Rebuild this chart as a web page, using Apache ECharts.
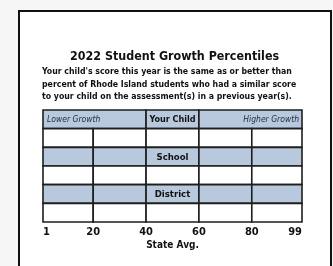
<!DOCTYPE html>
<html>
<head>
<meta charset="utf-8">
<script src="https://cdn.jsdelivr.net/npm/echarts@6/dist/echarts.min.js"></script>
<style>
  html, body { margin: 0; padding: 0; background: #f6f6f6; }
  #chart { width: 333px; height: 266px; }
</style>
</head>
<body>
<div id="chart"></div>
<script>
// percentile scale along the bottom
let tickValues = [1, 20, 40, 60, 80, 99];
// rows from top to bottom
let rowNames = ['header', 'child', 'School', 'schoolBar', 'District', 'districtBar'];
let rowLabels = ['Your Child', '', 'School', '', 'District', ''];
let rowShaded = [true, false, true, false, true, false];
// header row only splits around the middle band
let headerBreaks = [1, 40, 60, 99];
let headerLeft = 'Lower Growth';
let headerRight = 'Higher Growth';
let titleText = '2022 Student Growth Percentiles';
let introLines = [
  "Your child's score this year is the same as or better than",
  'percent of Rhode Island students who had a similar score',
  'to your child on the assessment(s) in a previous year(s).'
];

let blue = '#b8c9dd';
let ink = '#1e1e1e';
let font = "'DejaVu Sans Condensed', 'Liberation Sans', sans-serif";

// build the cells from the arrays above
let cells = [];
rowNames.forEach((name, r) => {
  let breaks = r === 0 ? headerBreaks : tickValues;
  for (let i = 0; i < breaks.length - 1; i++) {
    let label = '', align = 'center';
    if (r === 0) {
      if (i === 0) { label = headerLeft; align = 'left'; }
      else if (i === 1) { label = rowLabels[r]; }
      else { label = headerRight; align = 'right'; }
    } else if (breaks[i] === 40) {
      label = rowLabels[r];
    }
    cells.push({ value: [breaks[i], breaks[i + 1], r], label, align, shaded: rowShaded[r], header: r === 0 });
  }
});

let renderCell = function (params, api) {
  let c = cells[params.dataIndex];
  let p0 = api.coord([api.value(0), api.value(2)]);
  let p1 = api.coord([api.value(1), api.value(2)]);
  let h = api.size([0, 1])[1];
  let children = [{
    type: 'rect',
    shape: { x: p0[0], y: p0[1] - h / 2, width: p1[0] - p0[0], height: h },
    style: { fill: c.shaded ? blue : '#ffffff', stroke: ink, lineWidth: 1.6 }
  }];
  if (c.label) {
    let italic = c.header && c.align !== 'center';
    let tx = c.align === 'left' ? p0[0] + 4 : c.align === 'right' ? p1[0] - 3 : (p0[0] + p1[0]) / 2;
    let size = italic ? 8.5 : (c.header ? 9 : 9.5);
    children.push({
      type: 'text',
      style: {
        x: tx, y: p0[1] + 0.5, text: c.label, align: c.align, verticalAlign: 'middle',
        fill: italic ? '#1d2a44' : '#111',
        font: (italic ? 'italic ' : 'bold ') + size + 'px ' + font
      }
    });
  }
  return { type: 'group', children };
};

let chart = echarts.init(document.getElementById('chart'));
chart.setOption({
  animation: false,
  backgroundColor: '#f6f6f6',
  grid: { left: 43, right: 31, top: 110, bottom: 44 },
  xAxis: {
    type: 'value', min: 1, max: 99,
    axisLine: { show: false }, axisTick: { show: false }, splitLine: { show: false },
    axisLabel: {
      customValues: tickValues, margin: 5, color: '#111', fontSize: 11, fontWeight: 'bold',
      fontFamily: font, alignMinLabel: 'left', alignMaxLabel: 'right'
    },
    name: 'State Avg.', nameLocation: 'middle', nameGap: 18,
    nameTextStyle: { color: '#111', fontSize: 10, fontWeight: 'bold', fontFamily: font }
  },
  yAxis: { type: 'category', data: rowNames, inverse: true, show: false },
  graphic: [
    { type: 'rect', left: 18, top: 10, z: -10, silent: true,
      shape: { width: 312, height: 270 }, style: { fill: '#ffffff', stroke: '#111', lineWidth: 2 } },
    { type: 'text', left: 70, top: 51, style: {
      text: titleText, fill: '#111', font: 'bold 12.4px ' + font } },
    { type: 'text', left: 42, top: 66, style: {
      text: introLines.join('\n'), lineHeight: 12.4, fill: '#111', font: 'bold 8.7px ' + font } }
  ],
  series: [{
    type: 'custom',
    renderItem: renderCell,
    encode: { x: [0, 1], y: 2 },
    data: cells.map(c => c.value)
  }]
});
</script>
</body>
</html>
